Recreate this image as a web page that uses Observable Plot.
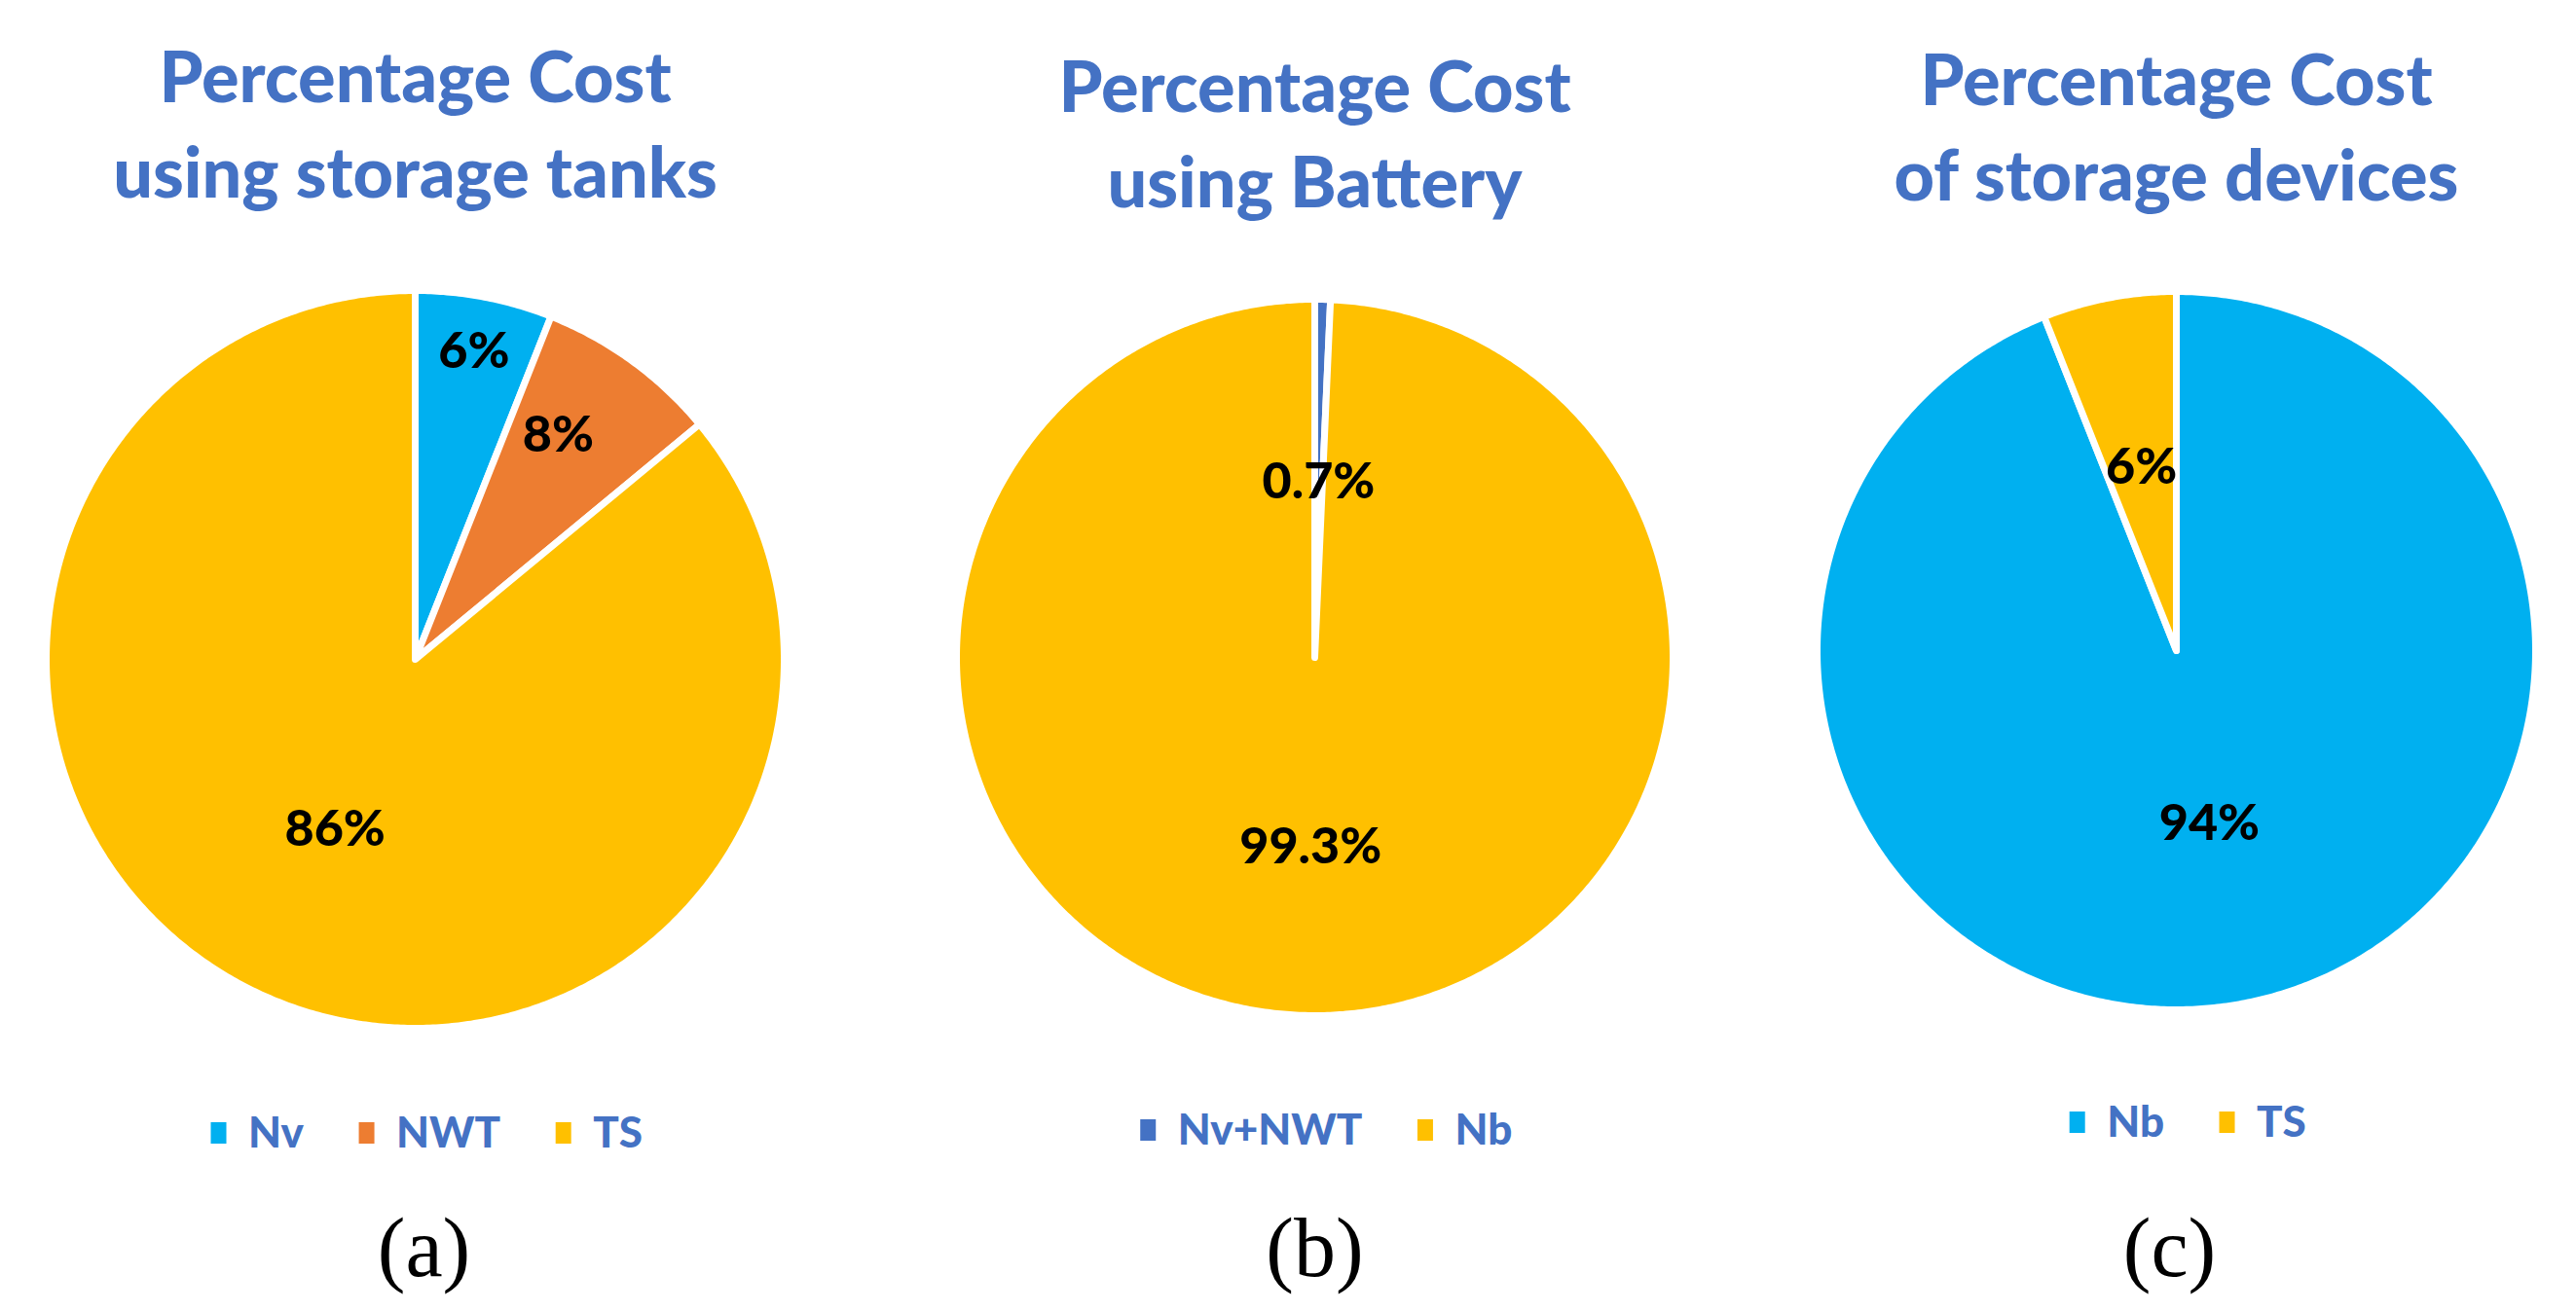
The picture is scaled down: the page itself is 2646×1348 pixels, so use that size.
<!DOCTYPE html>
<html><head><meta charset="utf-8">
<script src="https://cdn.jsdelivr.net/npm/d3@7"></script>
<script src="https://cdn.jsdelivr.net/npm/@observablehq/plot@0.6"></script>
<style>html,body{margin:0;padding:0;background:#fff}</style>
</head><body><div id="chart"></div>
<script>
// ---- data ----
const titles = ["Percentage Cost\nusing storage tanks", "Percentage Cost\nusing Battery", "Percentage Cost\nof storage devices"];
const panelLabels = ["(a)", "(b)", "(c)"];
const catsA = ["Nv", "NWT", "TS"];
const valsA = [6, 8, 86];
const colorsA = ["#00B0F0", "#ED7D31", "#FFC000"];
const catsB = ["Nv+NWT", "Nb"];
const valsB = [0.7, 99.3];
const colorsB = ["#4472C4", "#FFC000"];
const catsC = ["Nb", "TS"];
const valsC = [94, 6];
const colorsC = ["#00B0F0", "#FFC000"];

// ---- layout ----
const W = 2646, H = 1348;
const layout = [
  {cx: 426, cy: 677, r: 379, titleY: 122, legendY: 1164, labelX: 435, labelR: [0.85, 0.72, 0.51], labelRot: [0, -0.06, 0]},
  {cx: 1350, cy: 675, r: 368, titleY: 132, legendY: 1161, labelX: 1350, labelR: [0.49, 0.53], labelRot: [0, 0]},
  {cx: 2235, cy: 668, r: 369, titleY: 125, legendY: 1153, labelX: 2228, labelR: [0.49, 0.52], labelRot: [0, 0]}
];
const panelLabelY = 1283;
const panels = [
  {cats: catsA, vals: valsA, colors: colorsA},
  {cats: catsB, vals: valsB, colors: colorsB},
  {cats: catsC, vals: valsC, colors: colorsC}
];

const FONT = "Lato";
const legendFontSize = 44;
const ctx = document.createElement("canvas").getContext("2d");
ctx.font = `900 ${legendFontSize}px ${FONT}`;

const slicePts = [], labelPts = [], titlePts = [], legendRects = [], legendTexts = [], panelTexts = [];
panels.forEach((p, pi) => {
  const L = layout[pi];
  const arcs = d3.pie().sort(null).value(d => d)(p.vals);
  arcs.forEach((a, i) => {
    const id = pi + "-" + i;
    const n = Math.max(2, Math.ceil((a.endAngle - a.startAngle) / (2 * Math.PI) * 720));
    slicePts.push({id, color: p.colors[i], x: L.cx, y: L.cy});
    for (let k = 0; k <= n; k++) {
      const t = a.startAngle + (a.endAngle - a.startAngle) * k / n;
      slicePts.push({id, color: p.colors[i], x: L.cx + L.r * Math.sin(t), y: L.cy - L.r * Math.cos(t)});
    }
    const m = (a.startAngle + a.endAngle) / 2 + L.labelRot[i];
    labelPts.push({x: L.cx + L.r * L.labelR[i] * Math.sin(m), y: L.cy - L.r * L.labelR[i] * Math.cos(m), text: p.vals[i] + "%"});
  });
  titlePts.push({x: L.cx, y: L.titleY, text: titles[pi]});
  panelTexts.push({x: L.labelX, y: panelLabelY, text: panelLabels[pi]});
  // legend
  const sqW = 16, sqH = 22, gap = 22, itemGap = 57;
  const widths = p.cats.map(c => ctx.measureText(c).width);
  const total = widths.reduce((s, w) => s + sqW + gap + w, 0) + itemGap * (p.cats.length - 1);
  let x = L.cx + 12 - total / 2;
  p.cats.forEach((c, i) => {
    legendRects.push({x1: x, x2: x + sqW, y1: L.legendY - sqH / 2, y2: L.legendY + sqH / 2, color: p.colors[i]});
    legendTexts.push({x: x + sqW + gap, y: L.legendY, text: c});
    x += sqW + gap + widths[i] + itemGap;
  });
});

const chart = Plot.plot({
  width: W, height: H, margin: 0,
  x: {domain: [0, W], range: [0, W], axis: null},
  y: {domain: [0, H], range: [0, H], axis: null},
  color: {type: "identity"},
  style: {background: "white"},
  marks: [
    Plot.line(slicePts, {x: "x", y: "y", z: "id", fill: "color", stroke: "white", strokeWidth: 7, strokeLinejoin: "round", curve: "linear-closed"}),
    Plot.text(labelPts, {x: "x", y: "y", text: "text", fontSize: 52, fontWeight: 900, fill: "black", fontFamily: FONT}),
    Plot.text(titlePts, {x: "x", y: "y", text: "text", fontSize: 72, fontWeight: 900, fill: "#4472C4", lineHeight: 1.36, fontFamily: FONT}),
    Plot.rect(legendRects, {x1: "x1", x2: "x2", y1: "y1", y2: "y2", fill: "color"}),
    Plot.text(legendTexts, {x: "x", y: "y", text: "text", textAnchor: "start", fontSize: legendFontSize, fontWeight: 900, fill: "#4472C4", fontFamily: FONT}),
    Plot.text(panelTexts, {x: "x", y: "y", text: "text", fontSize: 86, fill: "black", fontFamily: "Liberation Serif"})
  ]
});
document.getElementById("chart").appendChild(chart);
</script>
</body></html>
